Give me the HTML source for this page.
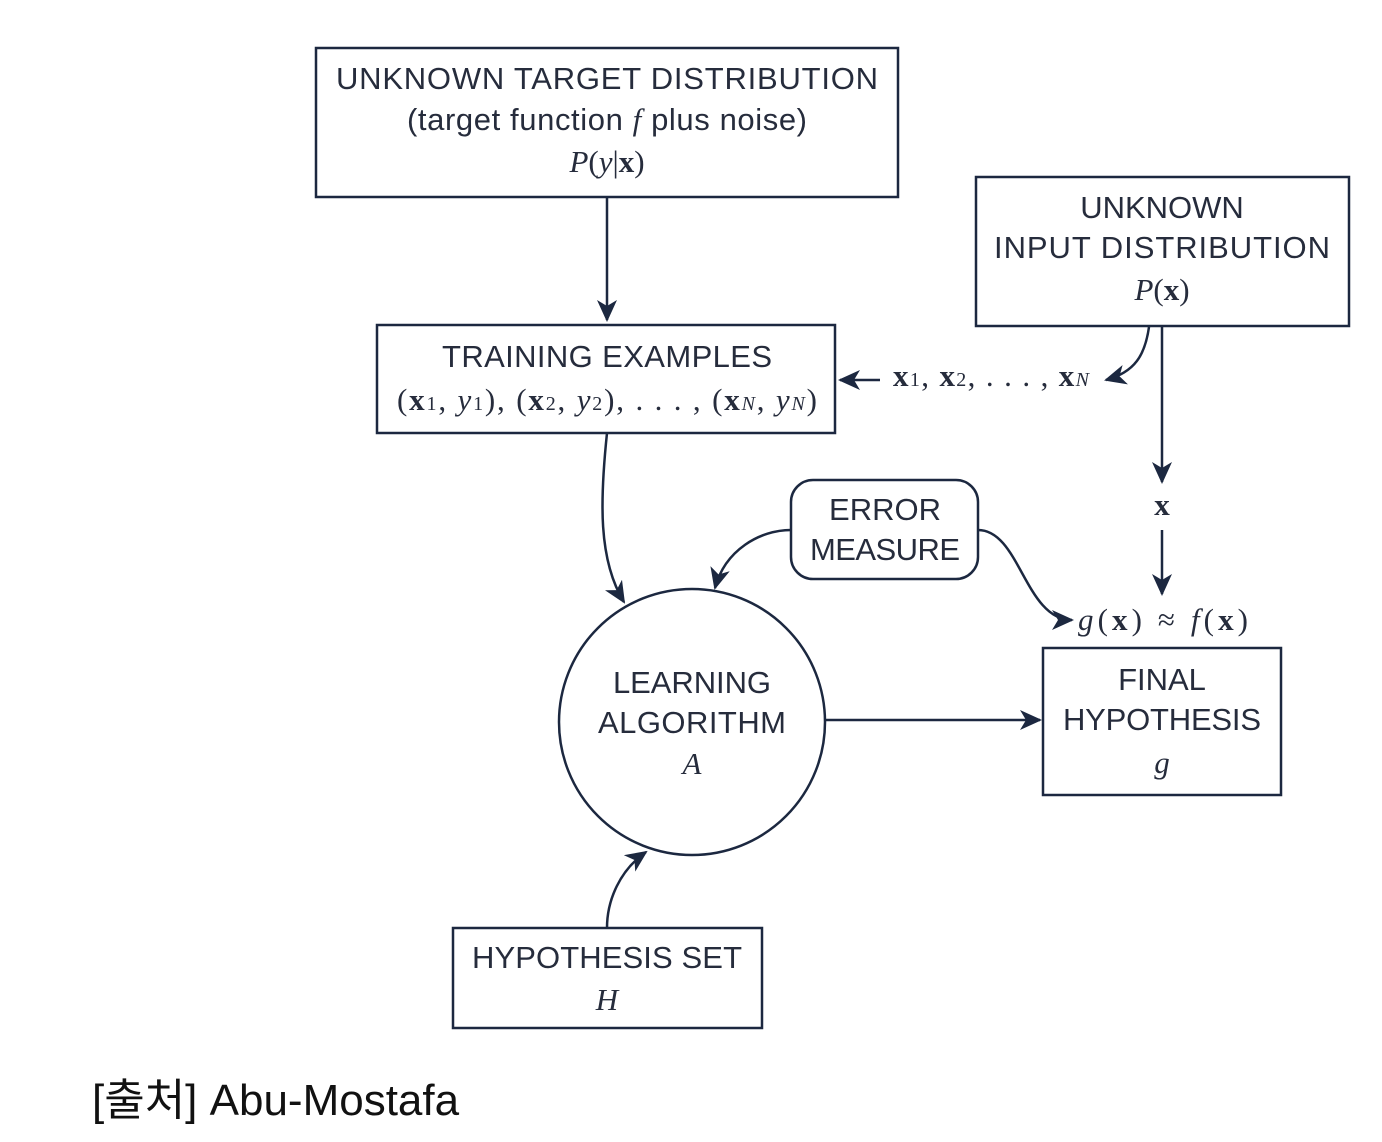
<!DOCTYPE html>
<html><head><meta charset="utf-8"><style>
html,body{margin:0;padding:0;background:#fff;}
svg{display:block}
.s{font-family:"Liberation Sans",sans-serif;font-size:31px;fill:#262c3c;}
.m{font-family:"Liberation Serif",serif;font-size:31px;fill:#262c3c;}
.i{font-style:italic}
.b{fill:none;stroke:#1c2840;stroke-width:2.5}
</style></head><body>
<svg width="1382" height="1142" viewBox="0 0 1382 1142" xmlns="http://www.w3.org/2000/svg">
<defs><marker id="a" markerWidth="12" markerHeight="12" refX="10" refY="6" orient="auto" markerUnits="userSpaceOnUse"><path d="M0,0 L12,6 L0,12 L4,6 Z" fill="#1c2840"/></marker>
<marker id="a2" markerWidth="22" markerHeight="20" refX="20" refY="10" orient="auto" markerUnits="userSpaceOnUse"><path d="M0,0 L22,10 L0,20 L6,10 Z" fill="#1c2840"/></marker></defs>

<rect class="b" x="316" y="48" width="582" height="149"/>
<text class="s" x="607" y="89" text-anchor="middle" textLength="542">UNKNOWN TARGET DISTRIBUTION</text>
<text class="s" x="607" y="130" text-anchor="middle" font-size="29" textLength="400">(target function <tspan class="m i">f</tspan> plus noise)</text>
<text class="m" x="607" y="172" text-anchor="middle"><tspan class="i">P</tspan>(<tspan class="i">y</tspan>|<tspan font-weight="bold">x</tspan>)</text>

<rect class="b" x="976" y="177" width="373" height="149"/>
<text class="s" x="1162" y="218" text-anchor="middle">UNKNOWN</text>
<text class="s" x="1162" y="258" text-anchor="middle" textLength="336">INPUT DISTRIBUTION</text>
<text class="m" x="1162" y="300" text-anchor="middle"><tspan class="i">P</tspan>(<tspan font-weight="bold">x</tspan>)</text>

<rect class="b" x="377" y="325" width="458" height="108"/>
<text class="s" x="607" y="367" text-anchor="middle" textLength="330">TRAINING EXAMPLES</text>
<text class="m" x="607" y="410" text-anchor="middle" textLength="420">(<tspan font-weight="bold">x</tspan><tspan font-size="20">1</tspan>, <tspan class="i">y</tspan><tspan font-size="20">1</tspan>), (<tspan font-weight="bold">x</tspan><tspan font-size="20">2</tspan>, <tspan class="i">y</tspan><tspan font-size="20">2</tspan>), . . . , (<tspan font-weight="bold">x</tspan><tspan font-size="20" class="i">N</tspan>, <tspan class="i">y</tspan><tspan font-size="20" class="i">N</tspan>)</text>

<rect class="b" x="791" y="480" width="187" height="99" rx="22"/>
<text class="s" x="885" y="520" text-anchor="middle">ERROR</text>
<text class="s" x="885" y="560" text-anchor="middle" textLength="150">MEASURE</text>

<circle class="b" cx="692" cy="722" r="133"/>
<text class="s" x="692" y="693" text-anchor="middle" textLength="158">LEARNING</text>
<text class="s" x="692" y="733" text-anchor="middle" textLength="188">ALGORITHM</text>
<text class="m i" x="692" y="774" text-anchor="middle">A</text>

<rect class="b" x="1043" y="648" width="238" height="147"/>
<text class="s" x="1162" y="690" text-anchor="middle">FINAL</text>
<text class="s" x="1162" y="730" text-anchor="middle" textLength="198">HYPOTHESIS</text>
<text class="m i" x="1162" y="773" text-anchor="middle">g</text>

<rect class="b" x="453" y="928" width="309" height="100"/>
<text class="s" x="607" y="968" text-anchor="middle" textLength="270">HYPOTHESIS SET</text>
<text class="m i" x="607" y="1010" text-anchor="middle">H</text>

<text class="m" x="893" y="386" textLength="196"><tspan font-weight="bold">x</tspan><tspan font-size="20">1</tspan>, <tspan font-weight="bold">x</tspan><tspan font-size="20">2</tspan>, . . . , <tspan font-weight="bold">x</tspan><tspan font-size="20" class="i">N</tspan></text>
<text class="m" x="1162" y="515" text-anchor="middle" font-weight="bold">x</text>
<text class="m" x="1078" y="630" textLength="170"><tspan class="i">g</tspan>(<tspan font-weight="bold">x</tspan>) ≈ <tspan class="i">f</tspan>(<tspan font-weight="bold">x</tspan>)</text>

<g class="b">
<path d="M607,197 V320" marker-end="url(#a2)"/>
<path d="M880,380 H840" marker-end="url(#a2)"/>
<path d="M1149,327 C1145,355 1135,372 1106,380" marker-end="url(#a2)"/>
<path d="M1162,326 V482" marker-end="url(#a2)"/>
<path d="M1162,530 V594" marker-end="url(#a2)"/>
<path d="M607,433 C600,500 598,560 624,602" marker-end="url(#a2)"/>
<path d="M791,530 C760,530 725,550 715,588" marker-end="url(#a2)"/>
<path d="M978,530 C1020,530 1025,620 1072,620" marker-end="url(#a2)"/>
<path d="M607,928 C607,900 620,870 646,852" marker-end="url(#a2)"/>
<path d="M825,720 H1040" marker-end="url(#a2)"/>
</g>

<text x="92" y="1115" font-family="'Liberation Sans','Noto Sans CJK KR',sans-serif" font-size="44" fill="#111">[출처] Abu-Mostafa</text>
</svg>
</body></html>
